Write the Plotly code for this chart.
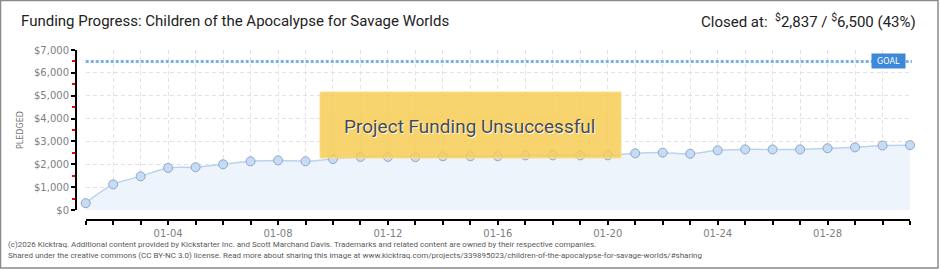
import plotly.graph_objects as go

# ---- data ----
dates = ["01-%02d" % d for d in range(1, 32)]
pledged = [300, 1120, 1470, 1840, 1870, 2000, 2130, 2170, 2130, 2230, 2320,
           2320, 2310, 2350, 2350, 2350, 2390, 2390, 2390, 2390, 2480, 2510,
           2460, 2610, 2650, 2650, 2650, 2700, 2740, 2820, 2837]
goal = 6500
day_index = list(range(len(dates)))
label_idx = [i for i in day_index if i % 4 == 3]
label_text = [dates[i] for i in label_idx]
title_text = "Funding Progress: Children of the Apocalypse for Savage Worlds"
closed_text = "Closed at:  <sup>$</sup>2,837 / <sup>$</sup>6,500 (43%)"
footer1 = ("(c)2026 Kicktraq. Additional content provided by Kickstarter Inc. and Scott Marchand Davis. "
           "Trademarks and related content are owned by their respective companies.")
footer2 = ("Shared under the creative commons (CC BY-NC 3.0) license. Read more about sharing this image at "
           "www.kicktraq.com/projects/339895023/children-of-the-apocalypse-for-savage-worlds/#sharing")

W, H = 940, 270
ML, MR, MT, MB = 76, 30, 50, 50
PW, PH = W - ML - MR, H - MT - MB


def px(p):
    return (p - ML) / PW


def py(p):
    return (H - MB - p) / PH


fig = go.Figure()
fig.add_trace(go.Scatter(
    x=day_index, y=pledged, mode="lines+markers", line_shape="spline",
    line=dict(color="#b9d3ef", width=1.5),
    marker=dict(size=9, color="#c6dcf6", line=dict(color="#8ea7c6", width=1)),
    fill="tozeroy", fillcolor="#eef4fc", cliponaxis=False, hoverinfo="skip",
    showlegend=False))

grid = dict(showgrid=True, gridcolor="#e2e2e2", gridwidth=1, griddash="4px,3px")
tfont = dict(family="DejaVu Sans", size=10, color="#808080")

fig.update_layout(
    width=W, height=H, margin=dict(l=ML, r=MR, t=MT, b=MB),
    paper_bgcolor="white", plot_bgcolor="white", showlegend=False,
    xaxis=dict(domain=[px(85.7), 1], anchor="free", position=0,
               range=[0, len(dates) - 1], tickvals=label_idx, ticktext=label_text,
               ticks="outside", ticklen=4, tickcolor="black", tickwidth=1.5,
               minor=dict(dtick=1, tick0=0, ticks="outside", ticklen=4, tickcolor="black",
                          tickwidth=1.5, showgrid=True, gridcolor="#e2e2e2", griddash="4px,3px"),
               showline=True, linecolor="black", linewidth=2, zeroline=False,
               tickfont=tfont, **grid),
    yaxis=dict(domain=[py(210), 1], anchor="free", position=0,
               range=[0, 7000], dtick=1000, tickprefix="$", tickformat=",d",
               ticks="outside", ticklen=4, tickcolor="black", tickwidth=1.5,
               showline=True, linecolor="black", linewidth=2, zeroline=False,
               minor=dict(dtick=500, ticks="outside", ticklen=3, tickcolor="#ff0000",
                          tickwidth=1.5, showgrid=False),
               tickfont=tfont, **grid),
)

shapes = [
    dict(type="line", xref="paper", yref="y", x0=px(85.7), x1=px(912), y0=goal, y1=goal,
         line=dict(color="#7cb0ea", width=3, dash="3px,2px"), layer="above"),
    dict(type="rect", xref="paper", yref="paper", x0=px(320), x1=px(621), y0=py(158), y1=py(92),
         fillcolor="rgba(247,205,85,0.85)", line=dict(color="#f7e08e", width=1), layer="above"),
    dict(type="rect", xref="paper", yref="paper", x0=px(0.5), x1=px(938), y0=py(268), y1=py(0.5),
         line=dict(color="#8a8a8a", width=1.5), fillcolor="rgba(0,0,0,0)"),
]
fig.update_layout(shapes=shapes)

ann = [
    dict(text=title_text, x=px(19), y=py(21), xanchor="left", yanchor="middle",
         font=dict(family="Roboto", size=15, color="#222")),
    dict(text=closed_text, x=px(918), y=py(21), xanchor="right", yanchor="middle",
         font=dict(family="Roboto", size=15, color="#222")),
    dict(text="PLEDGED", x=px(20), y=py(130), xanchor="center", yanchor="middle", textangle=-90,
         font=dict(family="DejaVu Sans", size=8, color="#777")),
    dict(text="Project Funding Unsuccessful", x=px(469), y=py(126), xanchor="center", yanchor="middle",
         font=dict(family="Roboto", size=19, color="#4a4a4a", shadow="1px 1px 0px #fff")),
    dict(text="GOAL", x=px(888), y=goal, yref="y", xanchor="center", yanchor="middle",
         bgcolor="#3c88d9", borderpad=1, width=31, height=12,
         font=dict(family="DejaVu Sans", size=8, color="white")),
    dict(text=footer1, x=px(6), y=py(244), xanchor="left", yanchor="middle",
         font=dict(family="Roboto", size=8, color="#5a5a5a")),
    dict(text=footer2, x=px(6), y=py(256), xanchor="left", yanchor="middle",
         font=dict(family="Roboto", size=8, color="#5a5a5a")),
]
for a in ann:
    a.setdefault("xref", "paper")
    a.setdefault("yref", "paper")
    a["showarrow"] = False
fig.update_layout(annotations=ann)

fig.write_html("out.html")
